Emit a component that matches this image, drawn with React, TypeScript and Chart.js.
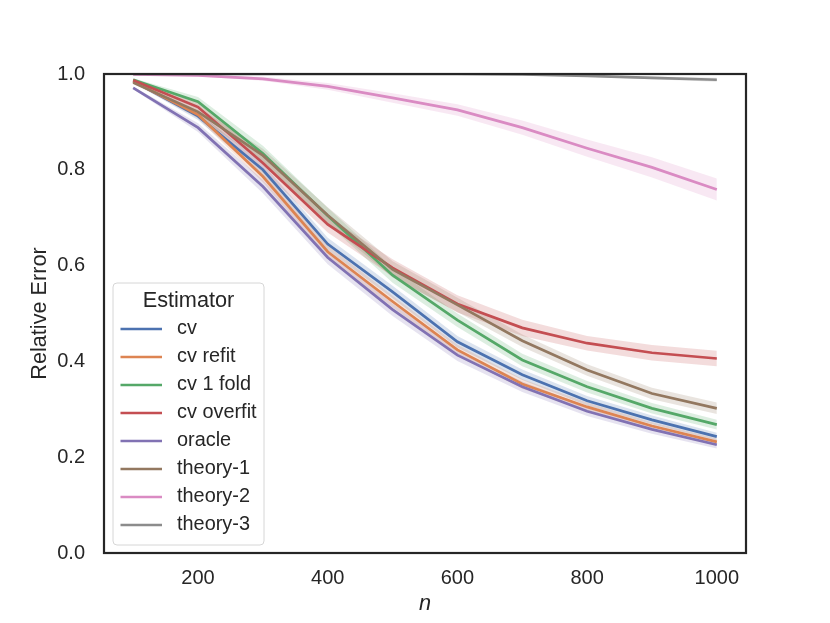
import React, { useEffect, useRef } from 'react';
import { Chart, registerables } from 'chart.js';

Chart.register(...registerables);

// sample sizes on the x axis
const nValues = [100, 200, 300, 400, 500, 600, 700, 800, 900, 1000];
const xTicks = [200, 400, 600, 800, 1000];
const yTicks = [0, 0.2, 0.4, 0.6, 0.8, 1.0];

const estimators = ['cv', 'cv refit', 'cv 1 fold', 'cv overfit', 'oracle', 'theory-1', 'theory-2', 'theory-3'];
const colors = ['#4c72b0', '#dd8452', '#55a868', '#c44e52', '#8172b3', '#937860', '#da8bc3', '#8c8c8c'];

// mean relative error per estimator, and half-width of the confidence band
const cvMean = [0.985, 0.912, 0.8, 0.645, 0.545, 0.441, 0.372, 0.318, 0.278, 0.243];
const cvBand = [0.003, 0.008, 0.012, 0.013, 0.013, 0.012, 0.011, 0.01, 0.009, 0.008];
const cvRefitMean = [0.985, 0.915, 0.786, 0.629, 0.525, 0.424, 0.353, 0.305, 0.265, 0.232];
const cvRefitBand = [0.003, 0.008, 0.012, 0.013, 0.012, 0.011, 0.01, 0.009, 0.008, 0.007];
const cvOneFoldMean = [0.988, 0.942, 0.834, 0.704, 0.58, 0.486, 0.403, 0.347, 0.302, 0.268];
const cvOneFoldBand = [0.003, 0.01, 0.016, 0.017, 0.016, 0.014, 0.013, 0.012, 0.011, 0.01];
const cvOverfitMean = [0.987, 0.931, 0.814, 0.686, 0.595, 0.52, 0.47, 0.438, 0.418, 0.406];
const cvOverfitBand = [0.003, 0.01, 0.015, 0.017, 0.018, 0.018, 0.017, 0.015, 0.016, 0.016];
const oracleMean = [0.971, 0.888, 0.765, 0.617, 0.508, 0.413, 0.347, 0.296, 0.258, 0.226];
const oracleBand = [0.003, 0.009, 0.014, 0.014, 0.013, 0.012, 0.011, 0.01, 0.009, 0.008];
const theory1Mean = [0.982, 0.921, 0.83, 0.705, 0.592, 0.518, 0.443, 0.382, 0.333, 0.302];
const theory1Band = [0.003, 0.009, 0.014, 0.017, 0.017, 0.015, 0.013, 0.012, 0.012, 0.012];
const theory2Mean = [0.999, 0.997, 0.99, 0.974, 0.95, 0.925, 0.888, 0.845, 0.805, 0.759];
const theory2Band = [0.001, 0.002, 0.004, 0.007, 0.01, 0.012, 0.015, 0.018, 0.021, 0.023];
const theory3Mean = [1.0, 1.0, 1.0, 1.0, 1.0, 1.0, 0.999, 0.996, 0.992, 0.988];
const theory3Band = [0.0, 0.0, 0.0, 0.0, 0.0, 0.001, 0.001, 0.002, 0.003, 0.004];

const means = [cvMean, cvRefitMean, cvOneFoldMean, cvOverfitMean, oracleMean, theory1Mean, theory2Mean, theory3Mean];
const bands = [cvBand, cvRefitBand, cvOneFoldBand, cvOverfitBand, oracleBand, theory1Band, theory2Band, theory3Band];

const FONT = "'Liberation Sans', Arial, sans-serif";
const TEXT = '#262626';

function withAlpha(hex: string, a: number) {
  const r = parseInt(hex.slice(1, 3), 16);
  const g = parseInt(hex.slice(3, 5), 16);
  const b = parseInt(hex.slice(5, 7), 16);
  return `rgba(${r}, ${g}, ${b}, ${a})`;
}

// dark spines on all four sides
const framePlugin = {
  id: 'frame',
  afterDatasetsDraw(chart: any) {
    const { ctx, chartArea } = chart;
    ctx.save();
    ctx.strokeStyle = TEXT;
    ctx.lineWidth = 2.2;
    ctx.strokeRect(chartArea.left, chartArea.top, chartArea.right - chartArea.left, chartArea.bottom - chartArea.top);
    ctx.restore();
  },
};

// legend drawn inside the lower-left corner, matplotlib style
const legendPlugin = {
  id: 'insideLegend',
  afterDraw(chart: any) {
    const { ctx, chartArea } = chart;
    const w = 151;
    const h = 262;
    const x0 = chartArea.left + 9;
    const y0 = chartArea.bottom - 8 - h;
    ctx.save();
    ctx.beginPath();
    ctx.roundRect(x0, y0, w, h, 4);
    ctx.fillStyle = 'rgba(255, 255, 255, 0.8)';
    ctx.fill();
    ctx.strokeStyle = '#d6d6d6';
    ctx.lineWidth = 1;
    ctx.stroke();

    ctx.fillStyle = TEXT;
    ctx.textBaseline = 'middle';
    ctx.textAlign = 'center';
    ctx.font = `21.7px ${FONT}`;
    ctx.fillText('Estimator', x0 + w / 2, y0 + 18);

    ctx.textAlign = 'left';
    ctx.font = `19.9px ${FONT}`;
    estimators.forEach((label, k) => {
      const y = y0 + 46 + k * 28;
      ctx.strokeStyle = colors[k];
      ctx.lineWidth = 2.7;
      ctx.beginPath();
      ctx.moveTo(x0 + 7.5, y);
      ctx.lineTo(x0 + 49, y);
      ctx.stroke();
      ctx.fillStyle = TEXT;
      ctx.fillText(label, x0 + 64, y);
    });
    ctx.restore();
  },
};

export default function App() {
  const canvasRef = useRef<HTMLCanvasElement>(null);
  const chartRef = useRef<Chart | null>(null);

  useEffect(() => {
    if (!canvasRef.current) return;
    if (chartRef.current) chartRef.current.destroy();

    const datasets: any[] = [];
    estimators.forEach((label, i) => {
      const mean = means[i];
      const band = bands[i];
      const lowerIndex = datasets.length;
      datasets.push({
        label: label + ' lower',
        data: nValues.map((n, k) => ({ x: n, y: mean[k] - band[k] })),
        borderWidth: 0,
        pointRadius: 0,
        fill: false,
        order: 1000 - i,
      });
      datasets.push({
        label: label + ' upper',
        data: nValues.map((n, k) => ({ x: n, y: mean[k] + band[k] })),
        borderWidth: 0,
        pointRadius: 0,
        backgroundColor: withAlpha(colors[i], 0.2),
        fill: { target: lowerIndex },
        order: 1000 - i,
      });
      datasets.push({
        label,
        data: nValues.map((n, k) => ({ x: n, y: mean[k] })),
        borderColor: colors[i],
        borderWidth: 2.7,
        pointRadius: 0,
        fill: false,
        order: 100 - i,
      });
    });

    chartRef.current = new Chart(canvasRef.current, {
      type: 'line',
      data: { datasets },
      plugins: [framePlugin, legendPlugin],
      options: {
        animation: false,
        responsive: true,
        maintainAspectRatio: false,
        layout: { padding: { top: 74, right: 84, left: 0, bottom: 0 } },
        plugins: {
          legend: { display: false },
          tooltip: { enabled: false },
        },
        scales: {
          x: {
            type: 'linear',
            min: 55,
            max: 1045,
            grid: { display: false, drawTicks: false },
            border: { display: false },
            afterBuildTicks: (scale: any) => {
              scale.ticks = xTicks.map((v) => ({ value: v }));
            },
            afterFit: (scale: any) => {
              scale.height = 70;
            },
            ticks: {
              color: TEXT,
              padding: 13,
              maxRotation: 0,
              font: { family: FONT, size: 20 },
              callback: (value: any) => String(value),
            },
            title: {
              display: true,
              text: 'n',
              color: TEXT,
              padding: { top: 0, bottom: 6 },
              font: { family: FONT, size: 21.7, style: 'italic' },
            },
          },
          y: {
            type: 'linear',
            min: 0,
            max: 1,
            grid: { display: false, drawTicks: false },
            border: { display: false },
            afterBuildTicks: (scale: any) => {
              scale.ticks = yTicks.map((v) => ({ value: v }));
            },
            afterFit: (scale: any) => {
              scale.width = 104;
            },
            ticks: {
              color: TEXT,
              padding: 19,
              font: { family: FONT, size: 20 },
              callback: (value: any) => Number(value).toFixed(1),
            },
            title: {
              display: true,
              text: 'Relative Error',
              color: TEXT,
              padding: { top: 27, bottom: 0 },
              font: { family: FONT, size: 21.7 },
            },
          },
        },
      },
    });

    return () => {
      if (chartRef.current) {
        chartRef.current.destroy();
        chartRef.current = null;
      }
    };
  }, []);

  return (
    <div style={{ position: 'fixed', left: 0, top: 0, width: '830px', height: '623px', background: '#ffffff' }}>
      <canvas ref={canvasRef}></canvas>
    </div>
  );
}
